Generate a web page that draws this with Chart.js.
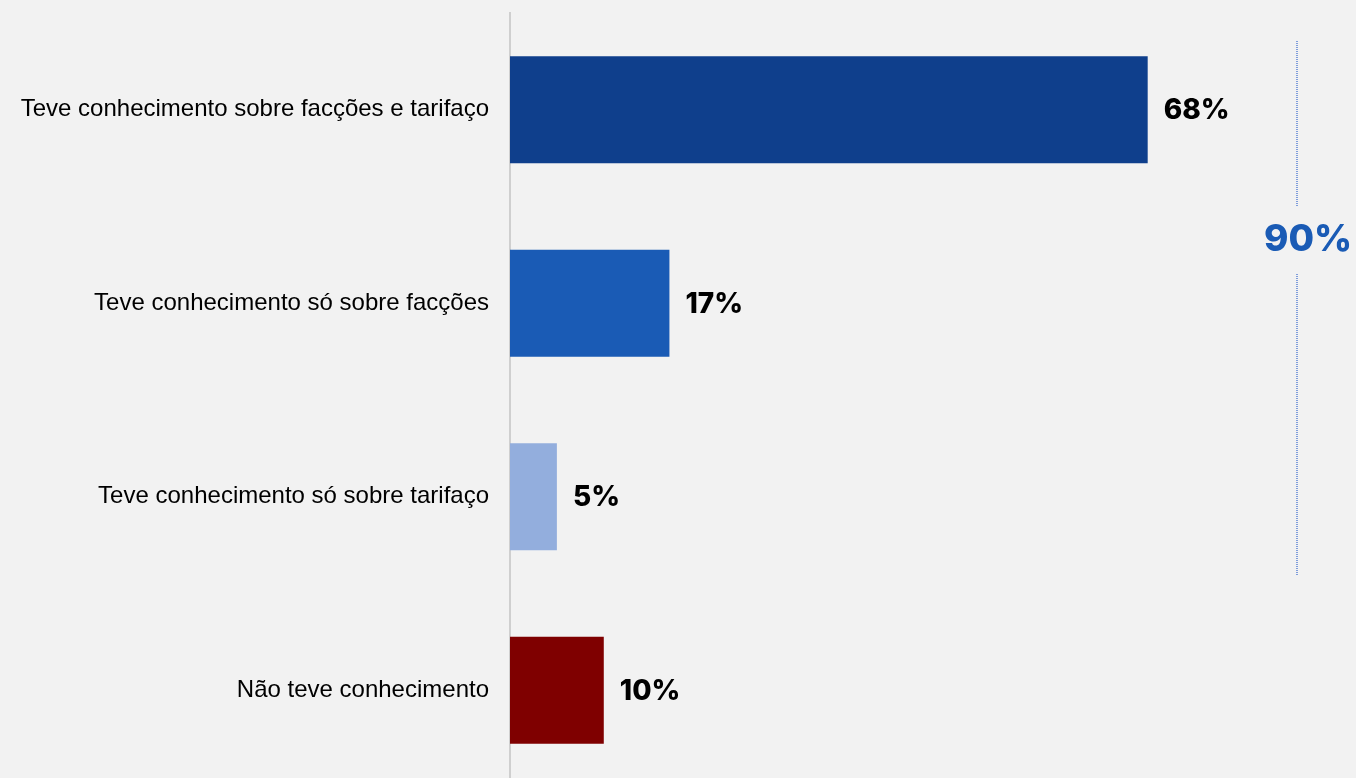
<!DOCTYPE html>
<html>
<head>
<meta charset="utf-8">
<script src="https://cdn.jsdelivr.net/npm/chart.js@4.4.1/dist/chart.umd.min.js"></script>
<style>
  html, body { margin: 0; padding: 0; background: #f2f2f2; overflow: hidden; }
  #wrap { width: 1356px; height: 800px; }
</style>
</head>
<body>
<div id="wrap"><canvas id="awarenessChart"></canvas></div>
<script>
const categories = [
    'Teve conhecimento sobre facções e tarifaço',
    'Teve conhecimento só sobre facções',
    'Teve conhecimento só sobre tarifaço',
    'Não teve conhecimento'
];
const values = [68, 17, 5, 10];
const barColors = ['#0f3f8c', '#1a5bb5', '#93aedd', '#7f0000'];
// first three bars are grouped by the bracket on the right
const bracketLabel = (values[0] + values[1] + values[2]) + '%';

// value labels next to each bar + the dotted bracket with the total
const labelsPlugin = {
    id: 'barLabels',
    afterDatasetsDraw(chart) {
        const ctx = chart.ctx;
        const meta = chart.getDatasetMeta(0);
        ctx.save();
        ctx.font = '800 28px Inter, "Noto Sans", sans-serif';
        ctx.fillStyle = '#000';
        ctx.textAlign = 'left';
        ctx.textBaseline = 'middle';
        meta.data.forEach(function(bar, i) {
            ctx.fillText(values[i] + '%', bar.x + 16, bar.y + 1);
        });

        const y = chart.scales.y;
        const x = 1297;
        const top = Math.round(y.getPixelForValue(-0.354));
        const bottom = Math.round(y.getPixelForValue(2.408));
        const mid = Math.round(y.getPixelForValue(0.67));
        ctx.strokeStyle = '#7f9ddb';
        ctx.lineWidth = 2;
        ctx.setLineDash([1, 1]);
        ctx.beginPath();
        ctx.moveTo(x, top);
        ctx.lineTo(x, mid - 32);
        ctx.moveTo(x, mid + 35);
        ctx.lineTo(x, bottom);
        ctx.stroke();
        ctx.setLineDash([]);

        ctx.font = '800 37px Inter, "Noto Sans", sans-serif';
        ctx.fillStyle = '#1a5bb5';
        ctx.textAlign = 'center';
        ctx.fillText(bracketLabel, 1308, mid + 1);
        ctx.restore();
    }
};

const ctx = document.getElementById('awarenessChart').getContext('2d');
new Chart(ctx, {
    type: 'bar',
    data: {
        labels: categories,
        datasets: [{
            data: values,
            backgroundColor: barColors,
            borderWidth: 0,
            categoryPercentage: 1,
            barPercentage: 0.553
        }]
    },
    options: {
        indexAxis: 'y',
        responsive: true,
        maintainAspectRatio: false,
        animation: false,
        layout: {
            padding: { top: 13, bottom: 13, left: 0, right: 2 }
        },
        plugins: {
            legend: { display: false },
            tooltip: { enabled: false }
        },
        scales: {
            x: {
                display: false,
                min: 0,
                max: 90
            },
            y: {
                afterFit: function(scale) {
                    scale.width = 510;
                    scale.paddingTop = 0;
                    scale.paddingBottom = 0;
                },
                grid: { display: false, drawTicks: false },
                border: { display: true, color: '#cfcfcf', width: 2 },
                ticks: {
                    padding: 21,
                    color: '#000',
                    font: { family: 'Arial, "Liberation Sans", sans-serif', size: 24 }
                }
            }
        }
    },
    plugins: [labelsPlugin]
});
</script>
</body>
</html>
